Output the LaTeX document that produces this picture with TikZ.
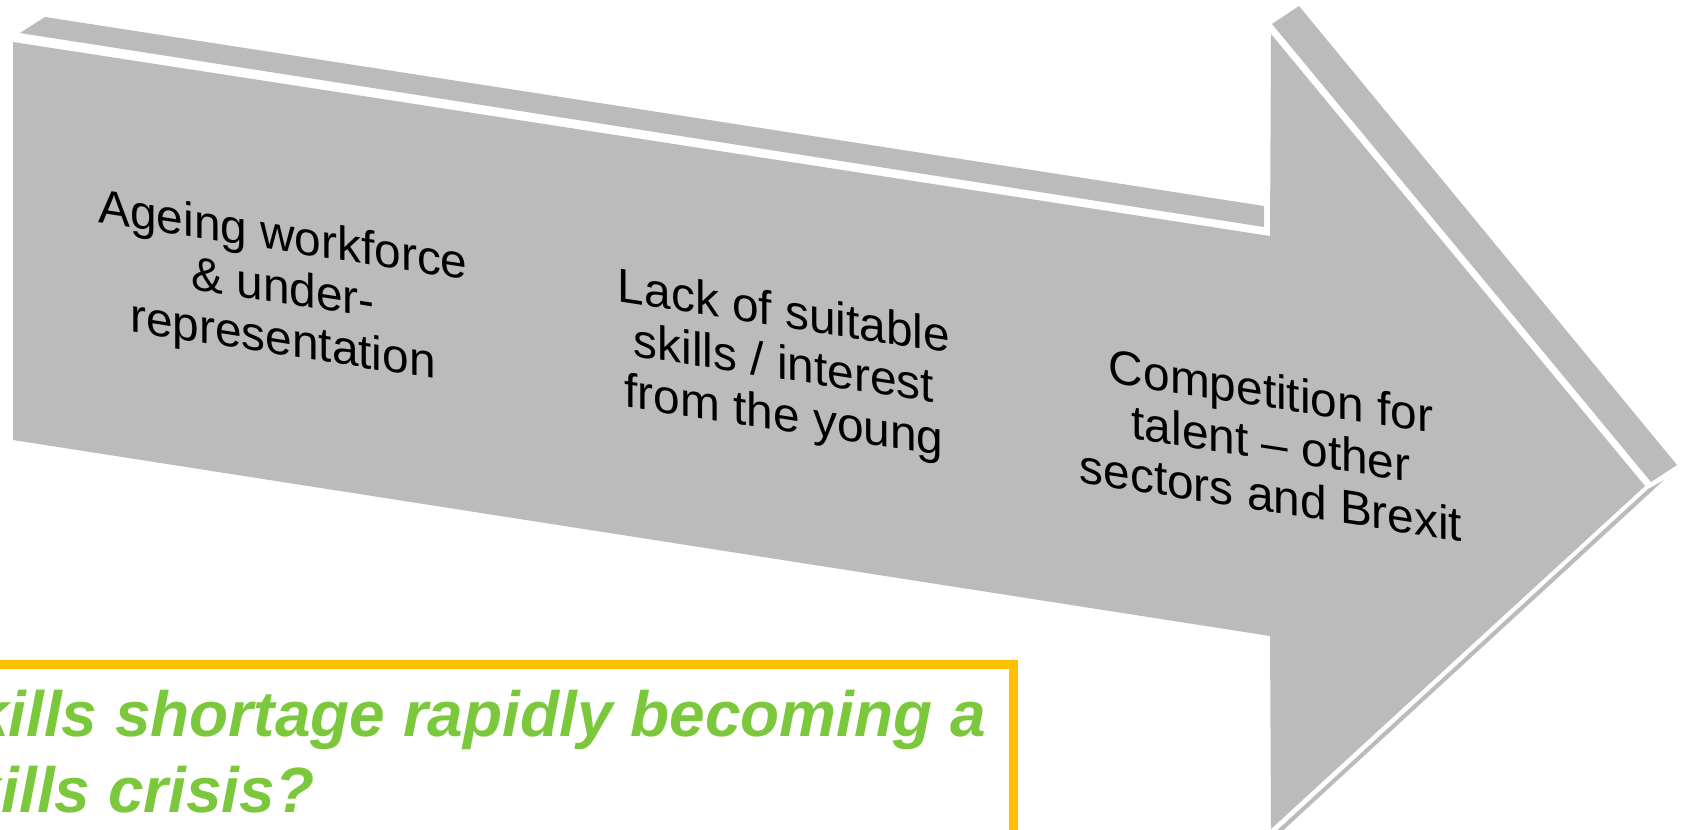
\documentclass[tikz,border=0pt]{standalone}
\usepackage{fontspec}
\setmainfont{Liberation Sans}
\definecolor{arrowgray}{HTML}{BBBBBB}
\definecolor{crisisgreen}{HTML}{7CC83C}
\definecolor{boxorange}{HTML}{FFC000}

\begin{document}
\begin{tikzpicture}
      [
        x = 0.02cm, y = -0.02cm,
        cause/.style = {align=center, inner sep=0pt, yslant=-0.155,
                        font=\fontsize{27.2}{29.6}\selectfont},
        question/.style = {align=left, inner sep=0pt, text=crisisgreen,
                           font=\fontsize{36.4}{43.2}\selectfont\bfseries\itshape}
      ]

      \useasboundingbox (0,0) rectangle (1689,829);
      \clip (0,0) rectangle (1689,829);

      \fill[arrowgray] (20,33) -- (45,17) -- (1264,206) -- (1264,227) -- cycle;
      \fill[arrowgray] (1272,24) -- (1299,6) -- (1677,465) -- (1651,482) -- cycle;
      \fill[arrowgray] (1648,489) -- (1664,480) -- (1278,835) -- (1272,835) -- cycle;
      \fill[arrowgray] (13,42) -- (1270,236) -- (1271,34) -- (1645,486)
                       -- (1271,829) -- (1270,636) -- (13,440) -- cycle;

      \node[cause] (ageing) at (283,291) {Ageing workforce\\\& under-\\representation};
      \node[cause] (lack) at (784,367) {Lack of suitable\\skills / interest\\from the young};
      \node[cause] (competition) at (1271,443) {Competition for\\talent – other\\sectors and Brexit};

      \draw[boxorange, line width=0.18cm] (-30,664.5) rectangle (1013.5,870);
      \node[question, anchor=west] (crisis) at (-70,752)
        {Skills shortage rapidly becoming a\\skills crisis?};

    \end{tikzpicture}
\end{document}
